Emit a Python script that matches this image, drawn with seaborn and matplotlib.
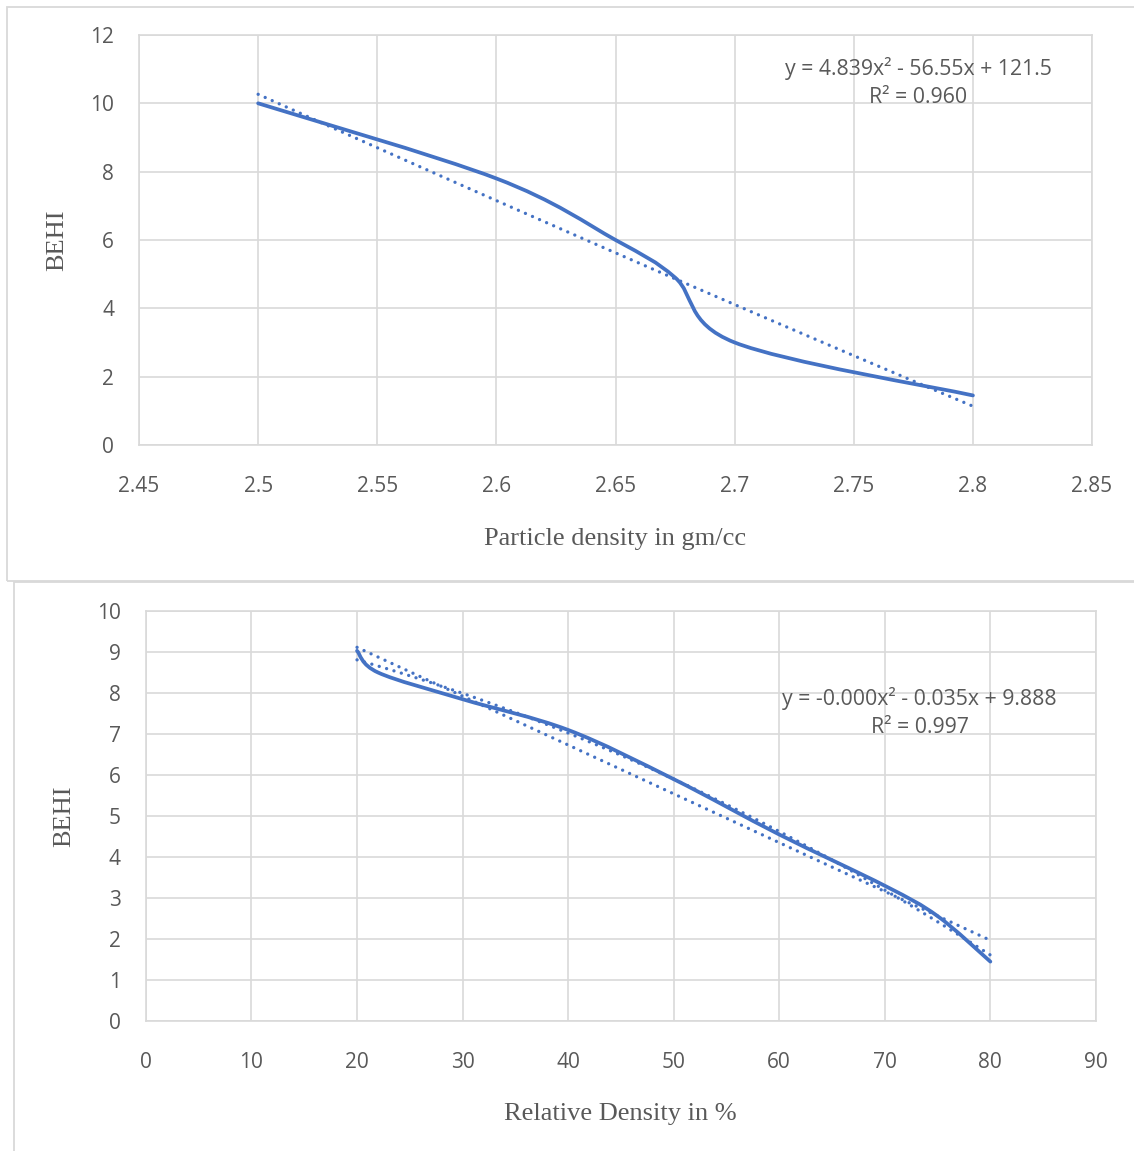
import numpy as np
import matplotlib
matplotlib.use("Agg")
import matplotlib.pyplot as plt
from matplotlib.path import Path
from matplotlib.patches import PathPatch, Rectangle
import seaborn as sns

# --- datos ---
density_x = [2.5, 2.6, 2.65, 2.675, 2.7, 2.8]
density_behi = [10.0, 7.8, 6.0, 4.9, 3.0, 1.45]
density_xticks = [2.45, 2.5, 2.55, 2.6, 2.65, 2.7, 2.75, 2.8, 2.85]
density_yticks = [0, 2, 4, 6, 8, 10, 12]
density_eq = "y = 4.839x\u00b2 - 56.55x + 121.5\nR\u00b2 = 0.960"

rel_x = [20, 22, 30, 40, 50, 60, 70, 75, 80]
rel_behi = [9.03, 8.5, 7.85, 7.1, 5.9, 4.55, 3.3, 2.56, 1.45]
rel_xticks = [0, 10, 20, 30, 40, 50, 60, 70, 80, 90]
rel_yticks = [0, 1, 2, 3, 4, 5, 6, 7, 8, 9, 10]
rel_eq = "y = -0.000x\u00b2 - 0.035x + 9.888\nR\u00b2 = 0.997"

BLUE = "#4472C4"
GRID = "#D9D9D9"
TEXT = "#595959"
DOTS = dict(color=BLUE, lw=2.4, ls=(0, (0.01, 2.3)), dash_capstyle="round")

sns.set_theme(style="white")
plt.rcParams["font.family"] = ["Open Sans", "DejaVu Sans"]


def smooth_line(ax, xs, ys):
    """Línea suavizada tipo Excel (Bezier con tangentes de Catmull-Rom)."""
    pts = np.column_stack([xs, ys]).astype(float)
    n = len(pts)
    verts, codes = [pts[0]], [Path.MOVETO]
    for i in range(n - 1):
        p0, p1 = pts[max(i - 1, 0)], pts[i]
        p2, p3 = pts[i + 1], pts[min(i + 2, n - 1)]
        verts += [p1 + (p2 - p0) / 6, p2 - (p3 - p1) / 6, p2]
        codes += [Path.CURVE4] * 3
    ax.add_patch(PathPatch(Path(verts, codes), fill=False, edgecolor=BLUE,
                           lw=2.7, capstyle="round", joinstyle="round", zorder=3))


def style_axes(ax, xticks, yticks, xlabel, xlab_pos, ylab_pos):
    ax.set_xlim(xticks[0], xticks[-1])
    ax.set_ylim(yticks[0], yticks[-1])
    ax.set_xticks(xticks, [f"{v:g}" for v in xticks])
    ax.set_yticks(yticks, [f"{v:g}" for v in yticks])
    ax.grid(True, color=GRID, lw=1.2)
    ax.set_axisbelow(True)
    for sp in ax.spines.values():
        sp.set_color(GRID)
        sp.set_linewidth(1.2)
    ax.tick_params(axis="both", length=0, labelsize=15, labelcolor=TEXT)
    ax.tick_params(axis="x", pad=22)
    ax.tick_params(axis="y", pad=18)
    ax.set_xlabel(xlabel, family="Liberation Serif", fontsize=19, color=TEXT)
    ax.set_ylabel("BEHI", family="Liberation Serif", fontsize=19, color=TEXT)
    ax.xaxis.set_label_coords(*xlab_pos)
    ax.xaxis.label.set_va("center")
    ax.yaxis.set_label_coords(*ylab_pos)
    ax.yaxis.label.set_va("center")


fig = plt.figure(figsize=(11.34, 11.51), dpi=100)

# marcos de los dos gráficos
fig.patches.append(Rectangle((0.0062, 0.4952), 1.0, 0.4987, transform=fig.transFigure,
                             fill=False, edgecolor=GRID, lw=1.3))
fig.patches.append(Rectangle((0.0123, -0.01), 1.0, 0.5044, transform=fig.transFigure,
                             fill=False, edgecolor=GRID, lw=1.3))

# --- gráfico superior: densidad de partícula ---
ax1 = fig.add_axes([0.1226, 0.6134, 0.8404, 0.3562])
smooth_line(ax1, density_x, density_behi)
sns.regplot(x=np.array(density_x), y=np.array(density_behi), order=2, ci=None,
            scatter=False, ax=ax1, line_kws=DOTS)
style_axes(ax1, density_xticks, density_yticks, "Particle density in gm/cc",
           (0.5, -0.229), (-0.086, 0.5))
ax1.text(2.777, 10.6, density_eq, ha="center", va="center", fontsize=15.3,
         color=TEXT, linespacing=1.45)

# --- gráfico inferior: densidad relativa ---
ax2 = fig.add_axes([0.1287, 0.1129, 0.8377, 0.3562])
smooth_line(ax2, rel_x, rel_behi)
sns.regplot(x=np.array(rel_x), y=np.array(rel_behi), order=2, ci=None,
            scatter=False, ax=ax2, line_kws=DOTS)
sns.regplot(x=np.array(rel_x), y=np.array(rel_behi), order=1, ci=None,
            scatter=False, ax=ax2, line_kws=DOTS)
style_axes(ax2, rel_xticks, rel_yticks, "Relative Density in %",
           (0.499, -0.227), (-0.0863, 0.5))
ax2.text(73.3, 7.53, rel_eq, ha="center", va="center", fontsize=15.3,
         color=TEXT, linespacing=1.45)

fig.savefig("out.png", dpi=100)
plt.close(fig)
